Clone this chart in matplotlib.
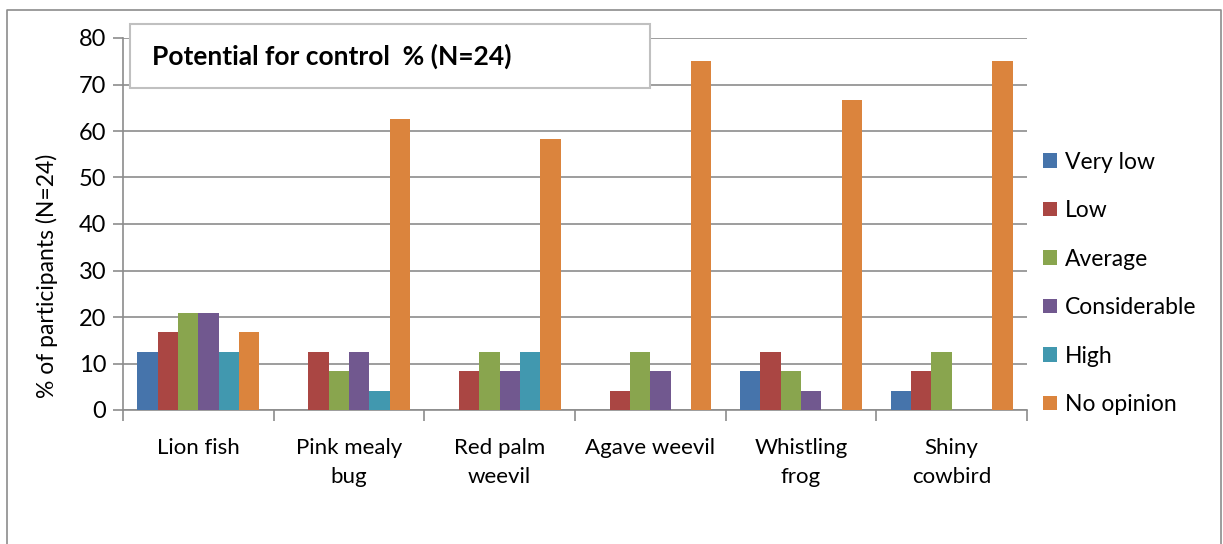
import numpy as np
import matplotlib
matplotlib.use("Agg")
import matplotlib.pyplot as plt
from matplotlib.patches import Rectangle
from matplotlib.lines import Line2D

plt.rcParams['font.family'] = ['Lato', 'DejaVu Sans']

# data (% of 24 participants)
species = ["Lion fish", "Pink mealy\nbug", "Red palm\nweevil", "Agave weevil", "Whistling\nfrog", "Shiny\ncowbird"]
levels = ["Very low", "Low", "Average", "Considerable", "High", "No opinion"]
very_low = [12.5, 0, 0, 0, 8.33, 4.17]
low = [16.67, 12.5, 8.33, 4.17, 12.5, 8.33]
average = [20.83, 8.33, 12.5, 12.5, 8.33, 12.5]
considerable = [20.83, 12.5, 8.33, 8.33, 4.17, 0]
high = [12.5, 4.17, 12.5, 0, 0, 0]
no_opinion = [16.67, 62.5, 58.33, 75, 66.67, 75]
series = [very_low, low, average, considerable, high, no_opinion]
colors = ['#4674AB', '#AA4643', '#89A54E', '#71588F', '#4198AF', '#DB843D']

W, H = 1223, 544
fig = plt.figure(figsize=(W / 100, H / 100), dpi=100)
ax = fig.add_axes([123 / W, 1 - 410 / H, (1027 - 123) / W, (410 - 38) / H])

x = np.arange(len(species))
bw = 0.135
for i, (vals, c) in enumerate(zip(series, colors)):
    ax.bar(x + (i - 2.5) * bw, vals, bw, color=c, label=levels[i], zorder=3)

ax.set_xlim(-0.5, len(species) - 0.5)
ax.set_ylim(0, 80)
ax.set_yticks(range(0, 81, 10))
ax.yaxis.grid(True, color='#8c8c8c', linewidth=1.2, zorder=0)
ax.set_xticks(x)
ax.set_xticklabels(species, fontsize=16, linespacing=1.55)
ax.set_xticks(np.arange(-0.5, len(species)), minor=True)
ax.tick_params(axis='x', which='major', length=0, pad=20)
ax.tick_params(axis='x', which='minor', length=8, color='#8c8c8c', width=1.2)
ax.tick_params(axis='y', length=7, color='#8c8c8c', width=1.2, labelsize=17, pad=5)
for s in ['top', 'right']:
    ax.spines[s].set_visible(False)
for s in ['left', 'bottom']:
    ax.spines[s].set_color('#8c8c8c')
    ax.spines[s].set_linewidth(1.2)
ax.set_ylabel("% of participants (N=24)", fontsize=16.5)
ax.yaxis.set_label_coords(-0.072, 0.36)

ax.legend(loc='center left', bbox_to_anchor=(1.0, 0.34), frameon=False, fontsize=16.5,
          handlelength=0.6, handleheight=0.6, handletextpad=0.35, labelspacing=1.2,
          borderaxespad=0.3)

# outer chart border
fig.add_artist(Line2D([7 / W, 7 / W, 1221 / W, 1221 / W], [0, 1 - 10 / H, 1 - 10 / H, 0],
                      color='#8c8c8c', linewidth=1.2))

# title box
fig.add_artist(Rectangle((130 / W, 1 - 88 / H), (650 - 130) / W, (88 - 24) / H,
                         facecolor='white', edgecolor='#c0c0c0', linewidth=1.5, zorder=5))
fig.text(152 / W, 1 - 56 / H, "Potential for control  % (N=24)", fontsize=19,
         fontweight='bold', va='center', ha='left', zorder=6)

fig.savefig("out.png", dpi=100)
